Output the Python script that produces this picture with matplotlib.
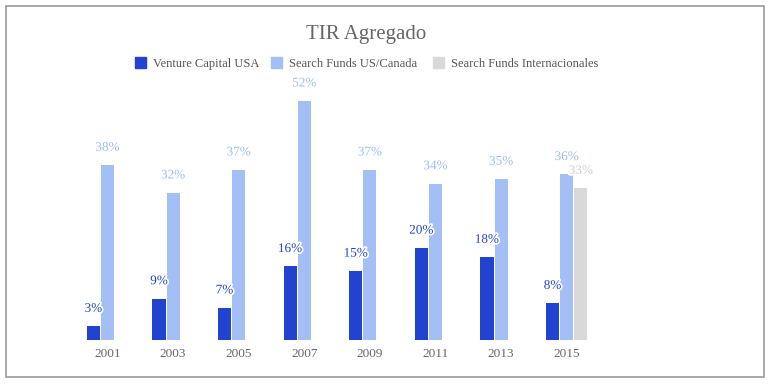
import numpy as np
import matplotlib.pyplot as plt
from matplotlib.patches import Rectangle
import matplotlib.patheffects as pe

# --- datos ---
anios = ["2001", "2003", "2005", "2007", "2009", "2011", "2013", "2015"]
vc_usa = [3, 9, 7, 16, 15, 20, 18, 8]
sf_us_canada = [38, 32, 37, 52, 37, 34, 35, 36]
sf_internacional = [None, None, None, None, None, None, None, 33]

series = ["Venture Capital USA", "Search Funds US/Canada", "Search Funds Internacionales"]
colores = ["#2243CF", "#A3BFF5", "#D9D9D9"]
colores_etiqueta = ["#2243CF", "#9DBBF5", "#D0D0D0"]

plt.rcParams['font.family'] = ['Liberation Serif', 'DejaVu Serif']

fig = plt.figure(figsize=(7.7, 3.84), dpi=100)
W, H = 770, 384

# ejes en pixeles: x de 74.7 a 599.5, base en y=340
ax = fig.add_axes([74.7 / W, (H - 340) / H, 524.8 / W, 276 / H])
ax.set_xlim(-0.5, len(anios) - 0.5)
ax.set_ylim(0, 60)

x = np.arange(len(anios))
ancho = 0.2
paso = 0.215
offsets = [-paso, 0, paso]

datos = [vc_usa, sf_us_canada, sf_internacional]
for k, serie in enumerate(datos):
    for i, v in enumerate(serie):
        if v is None:
            continue
        xi = x[i] + offsets[k]
        ax.bar(xi, v, width=ancho, color=colores[k], zorder=2)
        ax.annotate(f"{v}%", (xi, v), xytext=(0, 12.5), textcoords="offset points",
                    ha="center", va="center", fontsize=9.5, color=colores_etiqueta[k],
                    path_effects=[pe.withStroke(linewidth=2.5, foreground="white")],
                    zorder=3)

ax.set_xticks(x)
ax.set_xticklabels(anios, fontsize=9.5, color="#666666")
ax.tick_params(axis="x", length=0, pad=6)
ax.set_yticks([])
for s in ax.spines.values():
    s.set_visible(False)

# titulo
fig.text(366 / W, 1 - 34 / H, "TIR Agregado", ha="center", va="center",
         fontsize=15, color="#666666")

# leyenda manual
ley_y = 1 - 62.5 / H
cuadros_x = [135, 271, 433]
for cx, nombre, c in zip(cuadros_x, series, colores):
    fig.patches.append(Rectangle((cx / W, ley_y - 5.5 / H), 11 / W, 11 / H,
                                 transform=fig.transFigure, color=c))
    fig.text((cx + 18) / W, ley_y - 1.5 / H, nombre, ha="left", va="center",
             fontsize=9, color="#555555")

# borde
fig.patches.append(Rectangle((6 / W, 1 - 377 / H), 758 / W, 371 / H,
                             transform=fig.transFigure, fill=False,
                             edgecolor="#999999", linewidth=1.2))

plt.savefig("out.png", dpi=100)
